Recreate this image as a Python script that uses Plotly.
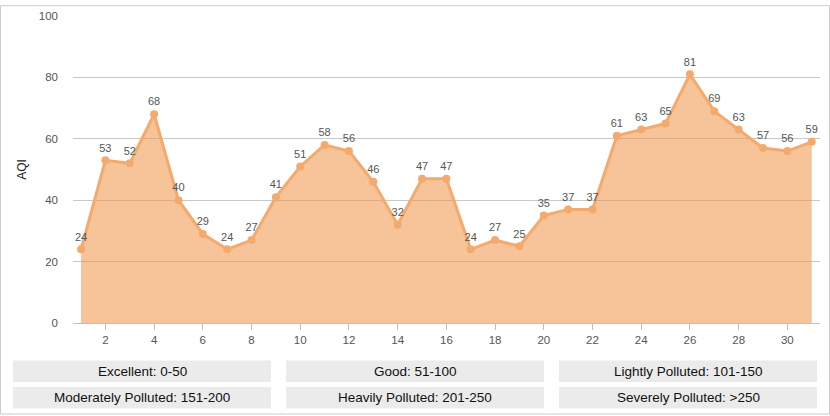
import plotly.graph_objects as go

# daily AQI readings
days = list(range(1, 32))
aqi = [24, 53, 52, 68, 40, 29, 24, 27, 41, 51, 58, 56, 46, 32, 47, 47,
       24, 27, 25, 35, 37, 37, 61, 63, 65, 81, 69, 63, 57, 56, 59]

# AQI level legend boxes (two rows of three)
levels = [
    "Excellent: 0-50", "Good: 51-100", "Lightly Polluted: 101-150",
    "Moderately Polluted: 151-200", "Heavily Polluted: 201-250", "Severely Polluted: >250",
]

W, H = 830, 416
L, R, T, B = 73, 10, 11, 93
pw, ph = W - L - R, H - T - B


def px_x(x):
    return (x - L) / pw


def px_y(y):
    return (H - B - y) / ph


fig = go.Figure()
fig.add_trace(go.Scatter(
    x=days, y=aqi, mode="lines+markers+text",
    fill="tozeroy", fillcolor="rgba(240,145,70,0.55)",
    line=dict(color="#f4aa6c", width=3),
    marker=dict(size=8, color="#f4aa6c"),
    text=[str(v) for v in aqi], textposition="top center",
    textfont=dict(size=11, color="#555555"),
    cliponaxis=False, hoverinfo="x+y",
))

shapes = [dict(type="rect", xref="paper", yref="paper",
               x0=px_x(0.5), x1=px_x(829.5), y0=px_y(415.5), y1=px_y(0.5),
               line=dict(color="#cccccc", width=1), layer="below")]
annotations = []
box_x = [13, 286, 559]
box_y = [361, 388]
for i, lab in enumerate(levels):
    x0 = box_x[i % 3]
    y0 = box_y[i // 3]
    shapes.append(dict(type="rect", xref="paper", yref="paper",
                       x0=px_x(x0), x1=px_x(x0 + 258), y0=px_y(y0 + 22), y1=px_y(y0),
                       fillcolor="#ebebeb", line=dict(width=0)))
    annotations.append(dict(xref="paper", yref="paper", x=px_x(x0 + 129), y=px_y(y0 + 11),
                            text=lab, showarrow=False, xanchor="center", yanchor="middle",
                            font=dict(size=13.5, color="#111111")))

fig.update_layout(
    width=W, height=H,
    margin=dict(l=L, r=R, t=T, b=B),
    paper_bgcolor="white", plot_bgcolor="white",
    font=dict(family="Liberation Sans, Arial, sans-serif"),
    showlegend=False,
    shapes=shapes, annotations=annotations,
    xaxis=dict(range=[0.67, 31.34], tickvals=list(range(2, 31, 2)),
               showgrid=False, showline=True, linecolor="#c0c0c0", linewidth=1,
               ticks="outside", ticklen=6, tickcolor="#c0c0c0",
               tickfont=dict(size=11.5, color="#555555"), zeroline=False),
    yaxis=dict(range=[0, 100], dtick=20, showgrid=True, gridcolor="#c8c8c8",
               zeroline=False, showline=False, ticks="", ticklabelstandoff=14,
               tickfont=dict(size=11.5, color="#555555"),
               title=dict(text="AQI", font=dict(size=12, color="#222222"), standoff=9)),
)

# drop the page's default body margin so the figure sits at the window origin
fig.write_html("out.html", config={"displayModeBar": False},
               post_script="document.body.style.margin='0';document.body.style.overflow='hidden';")
